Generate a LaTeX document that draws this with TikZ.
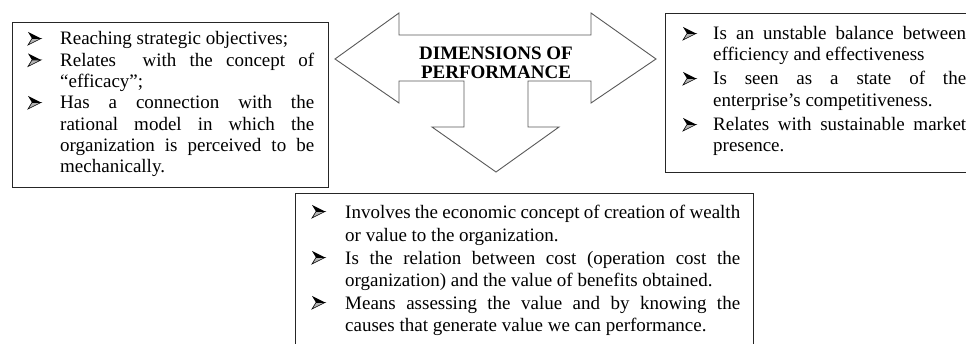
\documentclass[tikz,border=0pt]{standalone}
\usepackage{fontspec}
\setmainfont{Liberation Serif}
\newcommand\jl[2]{\makebox[#1pt][s]{#2}}
\begin{document}
\begin{tikzpicture}[x=1pt,y=-1pt,
  frame/.style={draw=black!85, line width=1.2pt},
  bigarrow/.style={draw=black!65, line width=0.9pt, fill=white},
  bodytext/.style={inner sep=0pt, anchor=base west, font=\fontsize{19}{21}\selectfont},
  titletext/.style={inner sep=0pt, anchor=base, font=\fontsize{19}{19}\bfseries\selectfont},
  arrowbullet/.pic={
    \fill[black] (0,0) -- (13,6.5) -- (4,6.5) -- cycle;
    \filldraw[fill=black!30, draw=black, line width=0.6pt, line join=miter] (4,6.5) -- (13,6.5) -- (0,13) -- cycle;
  }]
\useasboundingbox (0,0) rectangle (966,344);
\clip (0,0) rectangle (966,344);

% boxes
\node[frame, inner sep=0pt, anchor=north west, minimum width=316pt, minimum height=165pt] (leftbox) at (12,22) {};
\node[frame, inner sep=0pt, anchor=north west, minimum width=320pt, minimum height=159pt] (rightbox) at (665,13) {};
\node[frame, inner sep=0pt, anchor=north west, minimum width=458pt, minimum height=170pt] (bottombox) at (295,193) {};

% central arrow
\draw[bigarrow] (335,59) -- (399,13) -- (399,35) -- (591,35) -- (591,13) -- (656,59)
  -- (591,103) -- (591,81) -- (528,81) -- (528,127) -- (559,127) -- (496,172)
  -- (432,127) -- (464,127) -- (464,81) -- (399,81) -- (399,103) -- cycle;
\node[titletext] (t1) at (496,60) {DIMENSIONS OF};
\node[titletext] (t2) at (496,78.5) {PERFORMANCE};

% left box text
\pic at (28,32) {arrowbullet};
\node[bodytext] (l1) at (60,45) {Reaching strategic objectives;};
\pic at (28,53.5) {arrowbullet};
\node[bodytext] (l2) at (60,66.5) {\jl{254}{Relates \ with the concept of}};
\node[bodytext] (l3) at (60,88) {“efficacy”;};
\pic at (28,96) {arrowbullet};
\node[bodytext] (l4) at (60,109) {\jl{254}{Has a connection with the}};
\node[bodytext] (l5) at (60,130.5) {\jl{254}{rational model in which the}};
\node[bodytext] (l6) at (60,152) {\jl{254}{organization is perceived to be}};
\node[bodytext] (l7) at (60,173) {mechanically.};

% right box text
\pic at (683,27) {arrowbullet};
\node[bodytext] (r1) at (713,40) {\jl{253}{Is an unstable balance between}};
\node[bodytext] (r2) at (713,61) {efficiency and effectiveness};
\pic at (683,72) {arrowbullet};
\node[bodytext] (r3) at (713,85) {\jl{253}{Is seen as a state of the}};
\node[bodytext] (r4) at (713,107) {enterprise’s competitiveness.};
\pic at (683,118) {arrowbullet};
\node[bodytext] (r5) at (713,131) {\jl{253}{Relates with sustainable market}};
\node[bodytext] (r6) at (713,152) {presence.};

% bottom box text
\pic at (312,205) {arrowbullet};
\node[bodytext] (b1) at (345,219) {\jl{395}{Involves the economic concept of creation of wealth}};
\node[bodytext] (b2) at (345,242) {or value to the organization.};
\pic at (312,251) {arrowbullet};
\node[bodytext] (b3) at (345,265) {\jl{395}{Is the relation between cost (operation cost the}};
\node[bodytext] (b4) at (345,287) {organization) and the value of benefits obtained.};
\pic at (312,296) {arrowbullet};
\node[bodytext] (b5) at (345,310) {\jl{395}{Means assessing the value and by knowing the}};
\node[bodytext] (b6) at (345,332) {causes that generate value we can performance.};
\end{tikzpicture}
\end{document}
